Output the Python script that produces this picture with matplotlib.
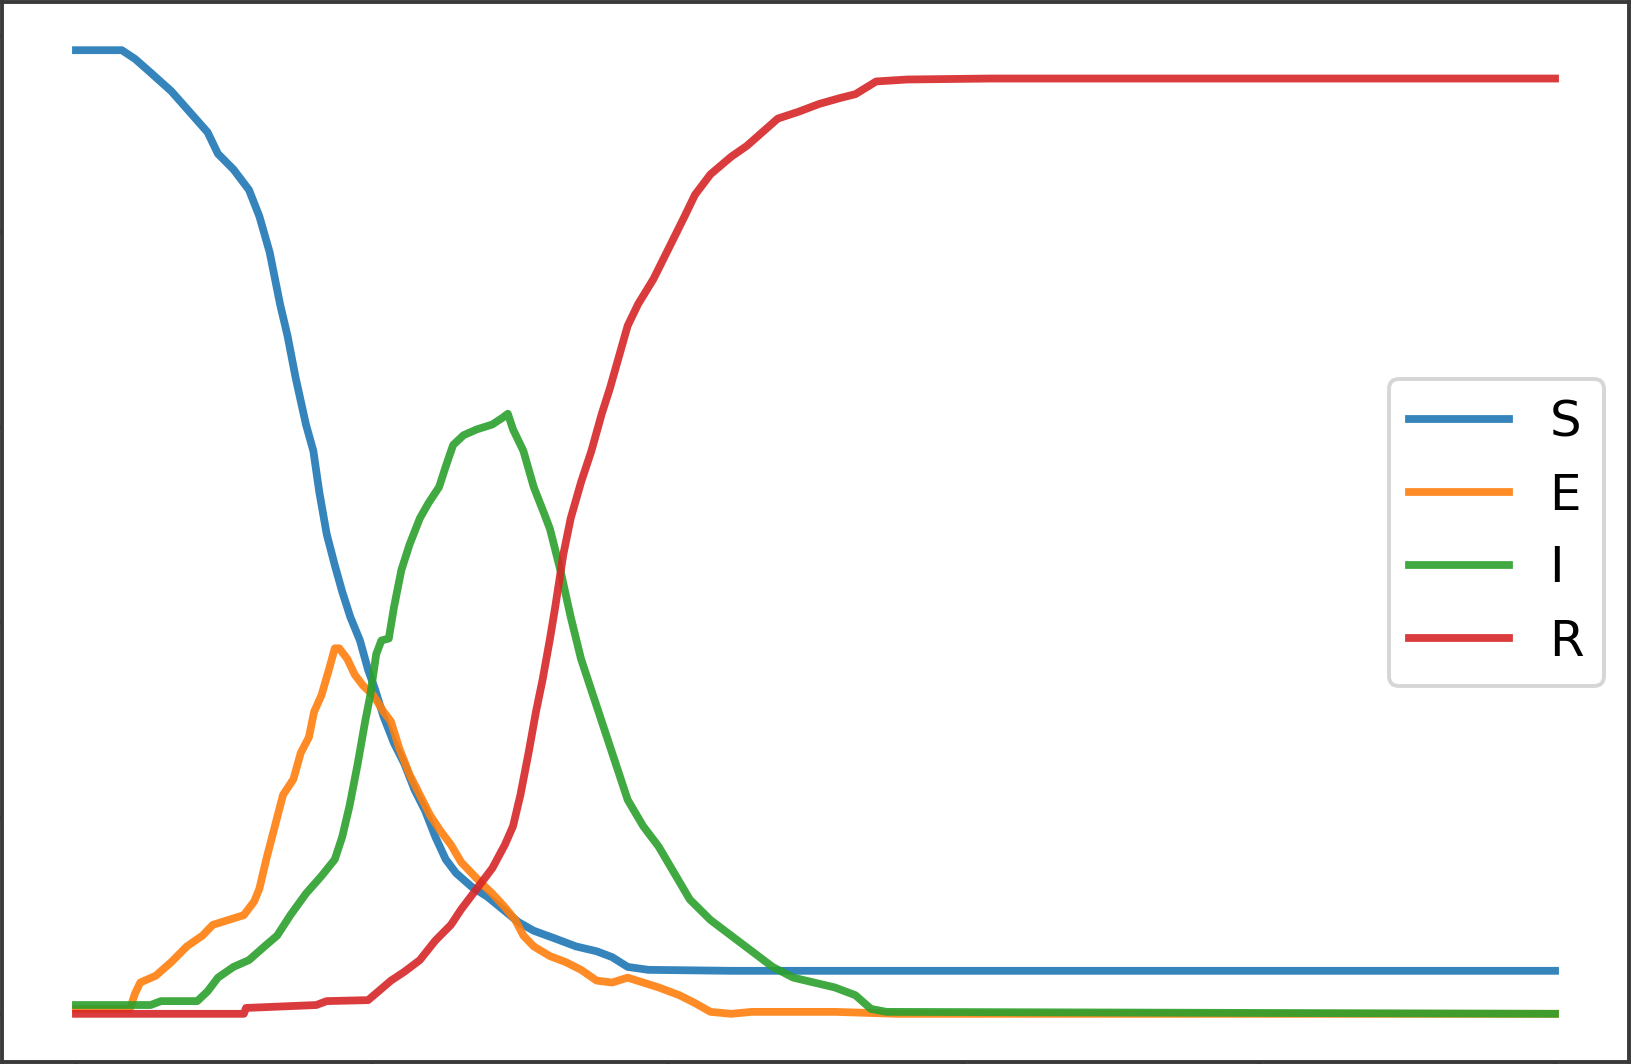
import matplotlib
matplotlib.use("Agg")
import matplotlib.pyplot as plt

# SEIR simulation, fractions of the population over time (days)
t_s = [0, 6.2, 8.0, 10.1, 12.9, 15.7, 17.8, 19.2, 21.3, 23.4, 24.8, 26.2, 27.6, 28.6, 29.7,
       31.1, 32.1, 32.9, 33.9, 35.0, 36.0, 37.1, 38.4, 39.5, 40.4, 41.6, 43.0, 44.4, 45.8,
       47.2, 48.6, 50.0, 51.4, 53.5, 55.6, 57.7, 59.8, 61.9, 64.8, 67.6, 70.4, 72.5, 74.6,
       77.4, 88.6, 200]
S = [0.986, 0.986, 0.977, 0.963, 0.944, 0.920, 0.902, 0.880, 0.864, 0.843, 0.816, 0.779,
     0.726, 0.694, 0.651, 0.603, 0.576, 0.534, 0.491, 0.459, 0.432, 0.406, 0.382, 0.352,
     0.333, 0.304, 0.277, 0.256, 0.229, 0.208, 0.181, 0.158, 0.144, 0.130, 0.120, 0.107,
     0.094, 0.085, 0.077, 0.069, 0.064, 0.058, 0.048, 0.045, 0.044, 0.044]

t_e = [0, 7.3, 8.0, 8.7, 10.8, 12.9, 15.0, 17.1, 18.5, 20.6, 22.7, 24.1, 24.8, 25.8, 26.9,
       28.0, 29.4, 30.4, 31.5, 32.2, 33.2, 34.2, 35.0, 35.6, 36.7, 37.7, 38.8, 40.2, 41.6,
       42.6, 43.7, 45.1, 46.5, 47.9, 49.3, 50.7, 52.1, 53.5, 54.9, 56.3, 58.0, 59.4, 60.5,
       61.9, 64.1, 66.2, 68.3, 70.4, 72.5, 74.6, 76.7, 78.8, 81.6, 83.7, 85.8, 88.6, 91.4,
       102.6, 111.0, 200]
E = [0.005, 0.005, 0.021, 0.032, 0.039, 0.053, 0.069, 0.080, 0.091, 0.096, 0.101, 0.115,
     0.128, 0.160, 0.192, 0.224, 0.240, 0.267, 0.283, 0.309, 0.326, 0.352, 0.374, 0.374,
     0.363, 0.347, 0.336, 0.326, 0.309, 0.299, 0.272, 0.245, 0.224, 0.203, 0.187, 0.173,
     0.155, 0.144, 0.133, 0.123, 0.109, 0.096, 0.080, 0.069, 0.059, 0.053, 0.045, 0.034,
     0.032, 0.037, 0.032, 0.027, 0.019, 0.011, 0.002, 0.0, 0.002, 0.002, 0.0, 0.0]

t_i = [0, 10.1, 11.5, 16.4, 17.8, 19.2, 21.3, 23.4, 25.5, 27.2, 29.0, 31.1, 33.2, 35.0,
       36.0, 37.0, 38.1, 39.1, 39.8, 40.6, 41.3, 42.3, 43.0, 44.0, 45.1, 46.5, 47.7, 49.1,
       50.0, 51.0, 52.4, 54.2, 56.3, 57.7, 58.4, 59.1, 60.5, 61.9, 63.3, 64.1, 65.5, 66.9,
       68.3, 69.7, 71.1, 72.5, 74.6, 76.7, 78.8, 80.9, 83.0, 85.8, 88.6, 91.4, 94.2, 97.0,
       99.8, 102.6, 105.4, 107.5, 109.6, 200]
I = [0.009, 0.009, 0.013, 0.013, 0.023, 0.037, 0.048, 0.055, 0.069, 0.080, 0.101, 0.123,
     0.141, 0.158, 0.181, 0.213, 0.256, 0.299, 0.326, 0.368, 0.382, 0.384, 0.416, 0.454,
     0.480, 0.507, 0.523, 0.539, 0.560, 0.582, 0.592, 0.598, 0.603, 0.610, 0.614, 0.598,
     0.576, 0.539, 0.512, 0.496, 0.454, 0.406, 0.363, 0.331, 0.299, 0.267, 0.219, 0.192,
     0.171, 0.144, 0.117, 0.096, 0.080, 0.064, 0.048, 0.037, 0.032, 0.027, 0.019, 0.005,
     0.002, 0.0]

t_r = [0, 22.7, 23.0, 32.5, 33.9, 39.5, 40.9, 42.6, 44.4, 46.5, 48.6, 50.7, 52.1, 54.2,
       56.3, 58.0, 59.1, 60.1, 61.2, 62.2, 63.1, 64.1, 64.8, 65.9, 66.9, 68.3, 69.7, 71.1,
       72.2, 73.4, 74.6, 76.0, 78.1, 80.2, 82.3, 83.7, 85.8, 88.6, 90.7, 92.8, 94.9, 97.7,
       100.5, 103.3, 105.4, 108.2, 112.4, 123.6, 200]
R = [0, 0, 0.006, 0.009, 0.013, 0.014, 0.023, 0.034, 0.043, 0.055, 0.075, 0.091, 0.107,
     0.128, 0.149, 0.173, 0.192, 0.224, 0.267, 0.309, 0.342, 0.384, 0.416, 0.470, 0.507,
     0.544, 0.576, 0.614, 0.640, 0.672, 0.704, 0.726, 0.752, 0.784, 0.816, 0.838, 0.859,
     0.877, 0.888, 0.902, 0.916, 0.923, 0.931, 0.937, 0.941, 0.954, 0.956, 0.957, 0.957]

fig = plt.figure(figsize=(4.08, 2.66), dpi=400)
ax = fig.add_axes([2 / 1632, 2 / 1064, 1627 / 1632, 1060 / 1064])

lw = 1.4
ax.plot(t_s, S, label='S', lw=lw, alpha=0.9)
ax.plot(t_e, E, label='E', lw=lw, alpha=0.9)
ax.plot(t_i, I, label='I', lw=lw, alpha=0.9)
ax.plot(t_r, R, label='R', lw=lw, alpha=0.9)

for sp in ax.spines.values():
    sp.set_color('#3a3a3a')
    sp.set_linewidth(0.7)

ax.set_xticks([0, 40, 80, 120, 160, 200])
ax.tick_params(labelbottom=False, labelleft=False, color='#3a3a3a')
leg = ax.legend(loc='center right', fontsize=9)
leg.get_frame().set_linewidth(0.7)

fig.savefig('out.png', dpi=400)
